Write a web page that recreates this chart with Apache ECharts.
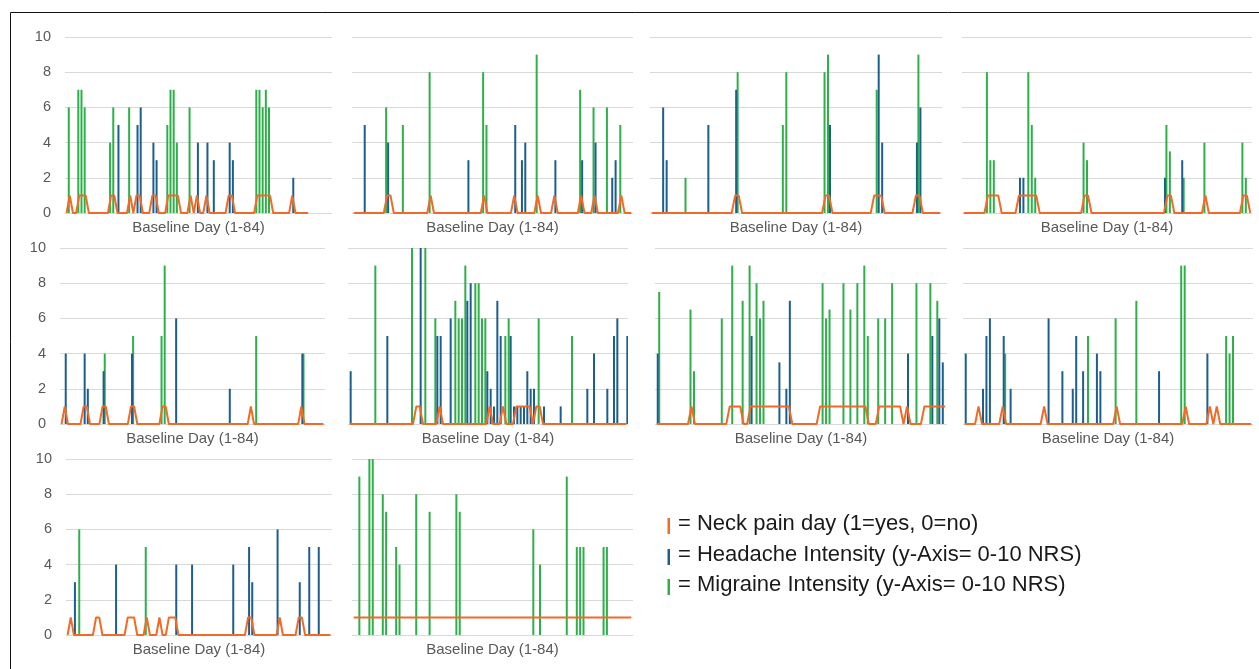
<!DOCTYPE html>
<html><head><meta charset="utf-8">
<script src="https://cdn.jsdelivr.net/npm/echarts/dist/echarts.min.js"></script>
<style>html,body{margin:0;padding:0;background:#fff}#c{width:1259px;height:669px}</style>
</head><body><div id="c"></div>
<script>
// ---------- DATA (day, value) ----------
const xAxisTitle = 'Baseline Day (1-84)';
const yTicks = [0, 2, 4, 6, 8, 10];
const legendTexts = ['= Neck pain day (1=yes, 0=no)', '= Headache Intensity (y-Axis= 0-10 NRS)', '= Migraine Intensity (y-Axis= 0-10 NRS)'];

const p1Migraine = [[2,6],[5,7],[6,7],[7,6],[15,4],[16,6],[21,6],[33,5],[34,7],[35,7],[36,4],[40,6],[61,7],[62,7],[63,6],[64,7],[65,6]];
const p1Headache = [[17,5],[23,5],[24,6],[28,4],[29,3],[42,4],[45,4],[47,3],[52,4],[53,3],[72,2]];
const p1Neck = [[2,2],[5,7],[15,16],[21,21],[23,24],[28,29],[33,36],[40,40],[42,42],[45,45],[52,53],[61,65],[72,72]];

const p2Migraine = [[11,6],[16,5],[24,8],[40,8],[41,5],[56,9],[69,7],[73,6],[77,6],[81,5]];
const p2Headache = [[4,5],[11,4],[35,3],[49,5],[51,3],[52,4],[61,3],[69,3],[73,4],[78,2],[79,3]];
const p2Neck = [[11,12],[24,24],[40,40],[49,49],[56,56],[61,61],[69,69],[73,73],[81,81]];

const p3Migraine = [[11,2],[26,8],[39,5],[40,8],[51,8],[52,9],[66,7],[78,9]];
const p3Headache = [[4,6],[5,3],[17,5],[25,7],[52,5],[66,9],[67,4],[77,4],[78,6]];
const p3Neck = [[25,26],[51,52],[65,67],[77,78]];

const p4Migraine = [[8,8],[9,3],[10,3],[20,8],[21,5],[22,2],[36,4],[37,3],[60,5],[61,3.5],[65,2],[71,4],[82,4],[83,2]];
const p4Headache = [[17,2],[18,2],[59,2],[64,3]];
const p4Neck = [[8,11],[17,22],[36,37],[60,61],[71,71],[82,83]];

const p5Migraine = [[15,4],[24,5],[33,5],[34,9],[63,5],[78,4]];
const p5Headache = [[2,4],[8,4],[9,2],[14,3],[23,4],[37,6],[54,2],[77,4]];
const p5Neck = [[2,2],[8,9],[14,15],[23,24],[33,34],[61,61],[77,77]];

const p6Migraine = [[9,9],[20,10],[24,10],[27,6],[33,7],[34,6],[35,6],[36,9],[39,8],[40,8],[41,6],[42,6],[48,5],[49,6],[58,6],[68,5]];
const p6Headache = [[1,3],[12,5],[22,10],[27,5],[28,5],[31,6],[36,7],[37,8],[42,3],[43,2],[44,1],[45,7],[46,5],[49,5],[50,1],[51,1],[52,1],[53,1],[54,3],[55,2],[56,2],[59,1],[64,1],[72,2],[74,4],[78,2],[80,5],[81,6],[84,5]];
const p6Neck = [[21,22],[28,28],[43,43],[47,47],[51,55],[57,58]];

const p7Migraine = [[2,7.5],[11,6.5],[12,3],[20,6],[23,9],[26,7],[28,9],[30,8],[31,6],[32,7],[49,8],[50,6],[51,6.5],[55,8],[57,6.5],[59,8],[61,9],[62,5],[65,6],[67,6],[69,8],[76,8],[80,8],[82,7]];
const p7Headache = [[1,4],[28,5],[36,3.5],[38,2],[39,7],[73,4],[80,5],[82,6],[83,3.5]];
const p7Neck = [[11,11],[22,25],[28,39],[48,61],[65,71],[73,73],[78,84]];

const p8Migraine = [[13,4],[37,5],[45,6],[51,7],[64,9],[65,9],[77,5],[78,4],[79,5]];
const p8Headache = [[1,4],[6,2],[7,5],[8,6],[12,5],[14,2],[25,6],[29,3],[32,2],[33,5],[35,3],[39,4],[40,3],[57,3],[71,4]];
const p8Neck = [[5,5],[12,12],[24,24],[45,45],[65,65],[72,72],[74,74]];

const p9Migraine = [[5,6],[26,5]];
const p9Headache = [[3,3],[16,4],[35,4],[40,4],[53,4],[58,5],[59,3],[67,6],[74,3],[77,5],[80,5]];
const p9Neck = [[2,2],[10,11],[20,22],[26,26],[30,30],[33,35],[58,59],[68,68],[74,75]];

const p10Migraine = [[3,9],[6,10],[7,10],[10,8],[11,7],[14,5],[15,4],[20,8],[24,7],[32,8],[33,7],[55,6],[57,4],[65,9],[68,5],[69,5],[70,5],[76,5],[77,5]];
const p10Headache = [];
const p10Neck = [[1,84]];

// number of days with a neck-pain record per panel (line stops after it)
const neckRecordedDays = [77, 84, 84, 84, 84, 84, 84, 84, 84, 84];

// ---------- LAYOUT ----------
const NDAYS = 84;
const days = Array.from({length: NDAYS}, (_, i) => String(i + 1));
const panels = [
  {mig: p1Migraine, head: p1Headache, neck: p1Neck, left: 65, top: 37, width: 267, labels: true},
  {mig: p2Migraine, head: p2Headache, neck: p2Neck, left: 352, top: 37, width: 281},
  {mig: p3Migraine, head: p3Headache, neck: p3Neck, left: 650, top: 37, width: 292},
  {mig: p4Migraine, head: p4Headache, neck: p4Neck, left: 962, top: 37, width: 290},
  {mig: p5Migraine, head: p5Headache, neck: p5Neck, left: 60, top: 248, width: 265, labels: true},
  {mig: p6Migraine, head: p6Headache, neck: p6Neck, left: 348, top: 248, width: 280},
  {mig: p7Migraine, head: p7Headache, neck: p7Neck, left: 655, top: 248, width: 292},
  {mig: p8Migraine, head: p8Headache, neck: p8Neck, left: 963, top: 248, width: 290},
  {mig: p9Migraine, head: p9Headache, neck: p9Neck, left: 66, top: 459, width: 266, labels: true},
  {mig: p10Migraine, head: p10Headache, neck: p10Neck, left: 352, top: 459, width: 281}
];
const PH = 176;
const GREEN = '#2DB04A', BLUE = '#1C5E8C', ORANGE = '#F06A28';
const FONT = '"Liberation Sans", Arial, sans-serif';

function toBars(pairs) {
  const a = new Array(NDAYS).fill('-');
  pairs.forEach(([d, v]) => { a[d - 1] = v; });
  return a;
}
function toNeck(ranges, recorded) {
  const a = [];
  for (let d = 1; d <= NDAYS; d++) {
    if (d > recorded) { a.push(null); continue; }
    a.push(ranges.some(([s, e]) => d >= s && d <= e) ? 1 : 0);
  }
  return a;
}

const grid = [], xAxis = [], yAxis = [], series = [];
panels.forEach((p, i) => {
  grid.push({left: p.left, top: p.top, width: p.width, height: PH, containLabel: false});
  xAxis.push({
    gridIndex: i, type: 'category', data: days, boundaryGap: true,
    axisLine: {show: false}, axisTick: {show: false}, axisLabel: {show: false},
    splitLine: {show: false},
    name: xAxisTitle, nameLocation: 'middle', nameGap: 7,
    nameTextStyle: {color: '#595959', fontSize: 15, fontFamily: FONT}
  });
  yAxis.push({
    gridIndex: i, type: 'value', min: yTicks[0], max: yTicks[yTicks.length - 1], interval: yTicks[1] - yTicks[0],
    axisLine: {show: false}, axisTick: {show: false},
    axisLabel: {show: !!p.labels, color: '#595959', fontSize: 14.5, margin: 14, fontFamily: FONT},
    splitLine: {lineStyle: {color: '#D9D9D9', width: 1}}
  });
  series.push({type: 'bar', xAxisIndex: i, yAxisIndex: i, data: toBars(p.mig), barWidth: 2, barGap: '0%',
    itemStyle: {color: GREEN}, silent: true});
  series.push({type: 'bar', xAxisIndex: i, yAxisIndex: i, data: toBars(p.head), barWidth: 2, barGap: '0%',
    itemStyle: {color: BLUE}, silent: true});
  series.push({type: 'line', xAxisIndex: i, yAxisIndex: i, data: toNeck(p.neck, neckRecordedDays[i]),
    symbol: 'none', connectNulls: false, lineStyle: {color: ORANGE, width: 2}, z: 5, silent: true});
});

const legendColors = [ORANGE, BLUE, GREEN];
const legendY = [526, 557, 587];
const graphic = [
  {type: 'rect', shape: {x: 10.5, y: 12.5, width: 1300, height: 700}, style: {fill: 'none', stroke: '#111', lineWidth: 1}, silent: true}
];
legendTexts.forEach((t, k) => {
  graphic.push({type: 'rect', shape: {x: 667.5, y: legendY[k] - 8, width: 2.5, height: 16}, style: {fill: legendColors[k]}, silent: true});
  graphic.push({type: 'text', left: 678, top: legendY[k] - 13, style: {text: t, fill: '#1a1a1a', font: '22px ' + FONT}, silent: true});
});

const chart = echarts.init(document.getElementById('c'), null, {renderer: 'canvas'});
chart.setOption({animation: false, backgroundColor: '#fff', grid, xAxis, yAxis, series, graphic});
</script></body></html>
